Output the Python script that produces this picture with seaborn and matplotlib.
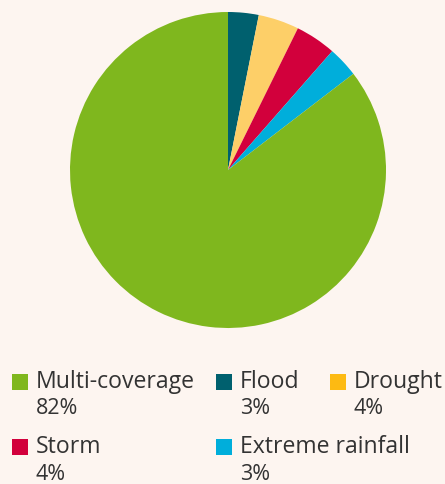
import matplotlib
matplotlib.use("Agg")
import matplotlib.pyplot as plt
import seaborn as sns
from matplotlib.patches import Rectangle

sns.set_theme(style="white")
plt.rcParams['font.family'] = ['Open Sans', 'DejaVu Sans']

# data
pie_labels = ["Flood", "Drought", "Storm", "Extreme rainfall", "Multi-coverage"]
pie_values = [3, 4, 4, 3, 82]
pie_colors = ["#00606E", "#FDCF68", "#D2003C", "#00AEDB", "#7FB71E"]

legend_labels = ["Multi-coverage", "Flood", "Drought", "Storm", "Extreme rainfall"]
legend_pcts = ["82%", "3%", "4%", "4%", "3%"]
legend_colors = ["#7FB71E", "#00606E", "#FDBA12", "#D2003C", "#00AEDB"]

BG = "#FDF5F0"
W, H = 445, 484
fig = plt.figure(figsize=(W / 100, H / 100), dpi=100, facecolor=BG)

cx, cy, r = 228, 170, 158
ax = fig.add_axes([(cx - r) / W, 1 - (cy + r) / H, 2 * r / W, 2 * r / H])
ax.set_facecolor(BG)
ax.pie(pie_values, colors=pie_colors, startangle=90, counterclock=False,
       radius=1, wedgeprops=dict(linewidth=0))
ax.set_xlim(-1, 1)
ax.set_ylim(-1, 1)
ax.axis("off")

# legend layout (pixel positions)
col_x = [12, 216, 330, 12, 216]
row_y = [382, 382, 382, 447, 447]
sq = 16
for lab, pct, col, x, y in zip(legend_labels, legend_pcts, legend_colors, col_x, row_y):
    fig.patches.append(Rectangle((x / W, 1 - (y + sq / 2) / H), sq / W, sq / H,
                                 transform=fig.transFigure, facecolor=col,
                                 edgecolor="none"))
    fig.text((x + 24) / W, 1 - y / H, lab, fontsize=16.6, color="#333333",
             va="center", ha="left")
    fig.text((x + 24) / W, 1 - (y + 27) / H, pct, fontsize=15.5, color="#333333",
             va="center", ha="left")

fig.savefig("out.png", dpi=100, facecolor=BG)
